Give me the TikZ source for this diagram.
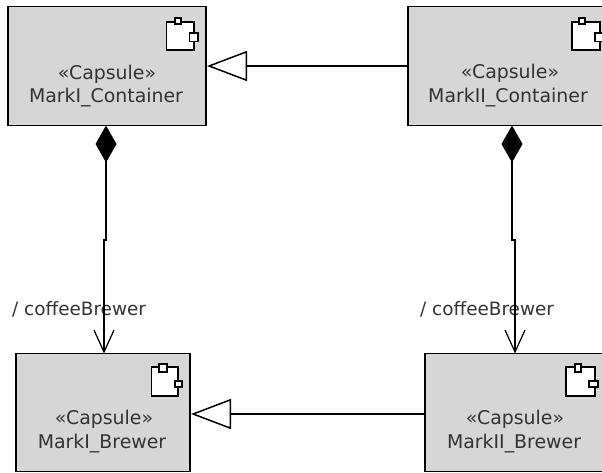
\documentclass[tikz,border=0pt]{standalone}
\usepackage{fontspec}
\setmainfont{DejaVu Sans}
\usetikzlibrary{arrows.meta,calc}
\definecolor{boxgrey}{HTML}{D6D6D6}
\definecolor{inkgrey}{HTML}{333333}
\tikzset{
  capsule/.style={draw=black,fill=boxgrey,line width=1.5pt,inner sep=0pt,outer sep=0pt,anchor=north west},
  caption/.style={font=\fontsize{18.9}{22}\selectfont,text=inkgrey,inner sep=0pt,anchor=center},
  rolelabel/.style={font=\fontsize{18.4}{22}\selectfont,text=inkgrey,inner sep=0pt,anchor=west},
  iconbody/.style={draw=black,fill=white,line width=1.4pt},
  inherit/.style={line width=1.7pt,-{Triangle[open,length=40pt,width=30pt,fill=white,line width=1.5pt]}},
  compose/.style={line width=1.7pt,{Diamond[length=37pt,width=21pt,fill=black]}-{Straight Barb[length=22pt,width=20pt,line width=1.2pt]}},
}
\begin{document}
\begin{tikzpicture}[x=1pt,y=-1pt]
\path[use as bounding box,clip] (0,0) rectangle (602,472);
\fill[white] (0,0) rectangle (602,472);
% boxes
\node[capsule,minimum width=198pt,minimum height=119pt] (c1) at (8,6.5) {};
\node[capsule,minimum width=204pt,minimum height=119pt] (c2) at (408,6.5) {};
\node[capsule,minimum width=174pt,minimum height=118pt] (b1) at (16,353.5) {};
\node[capsule,minimum width=180pt,minimum height=118pt] (b2) at (425,353.5) {};
% captions
\node[caption] (c1s) at (107,74) {«Capsule»};
\node[caption] (c1n) at (106,98) {MarkI\_Container};
\node[caption] (c2s) at (510,73.5) {«Capsule»};
\node[caption] (c2n) at (508,98) {MarkII\_Container};
\node[caption] (b1s) at (104,419) {«Capsule»};
\node[caption] (b1n) at (102,444) {MarkI\_Brewer};
\node[caption] (b2s) at (515,419) {«Capsule»};
\node[caption] (b2n) at (514,444) {MarkII\_Brewer};
% icons
\draw[iconbody] (166.5,22) rectangle (194,50);
\draw[iconbody] (175,18) rectangle (181,24);
\draw[iconbody] (189.5,33) rectangle (198,41.5);
\draw[iconbody] (572,22) rectangle (600,50);
\draw[iconbody] (579,18) rectangle (585,24);
\draw[iconbody] (595,33) rectangle (606,41.5);
\draw[iconbody] (151.5,367) rectangle (178,396);
\draw[iconbody] (159,364) rectangle (167,372);
\draw[iconbody] (175,381) rectangle (182,387);
\draw[iconbody] (566,367) rectangle (595,396);
\draw[iconbody] (575,364) rectangle (581,372);
\draw[iconbody] (589,381) rectangle (598,387);
% role labels
\node[rolelabel] (r1) at (12,309) {/ coffeeBrewer};
\node[rolelabel] (r2) at (420,309) {/ coffeeBrewer};
% connectors
\draw[inherit] (c2.west) -- ([xshift=1pt]c1.east);
\draw[inherit] ([yshift=-1.5pt]b2.west) -- ([xshift=1pt,yshift=-1.5pt]b1.east);
\coordinate (k1a) at (106,240);
\coordinate (k1b) at (104,240);
\coordinate (k2a) at (512,240);
\coordinate (k2b) at (515,240);
\draw[compose] (c1.south -| k1a) -- (k1a) -- (k1b) -- (b1.north -| k1b);
\draw[compose] (c2.south -| k2a) -- (k2a) -- (k2b) -- (b2.north -| k2b);
\end{tikzpicture}
\end{document}
